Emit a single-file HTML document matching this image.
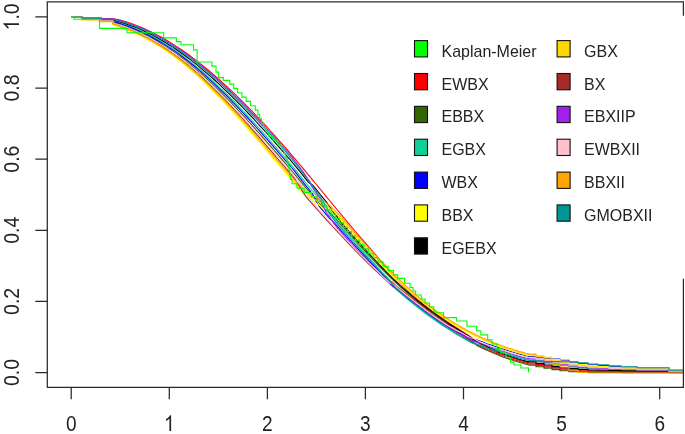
<!DOCTYPE html>
<html><head><meta charset="utf-8"><style>
html,body{margin:0;padding:0;background:#fff;width:685px;height:434px;overflow:hidden}
svg{display:block;filter:blur(0.4px)}
</style></head><body>
<svg width="685" height="434" viewBox="0 0 685 434">
<rect width="685" height="434" fill="#fff"/>
<g fill="none" stroke-width="1.1">
<path d="M71.2,17 H82.0 V18.0 H101.2 V18.7 H113.0 V18.7 L116.5,19.2 L120.0,20.1 L123.5,21.1 L127.0,22.1 L130.5,23.3 L134.0,24.5 L137.5,25.9 L141.0,27.3 L144.5,28.8 L148.0,30.4 L151.5,32.1 L155.0,33.9 L158.5,35.7 L162.0,37.6 L165.5,39.6 L169.0,41.7 L172.5,43.9 L176.0,46.1 L179.5,48.5 L183.0,50.8 L186.5,53.3 L190.0,55.8 L193.5,58.4 L197.0,61.1 L200.5,63.9 L204.0,66.7 L207.5,69.5 L211.0,72.5 L214.5,75.5 L218.0,78.5 L221.5,81.7 L225.0,84.8 L228.5,88.1 L232.0,91.4 L235.5,94.7 L239.0,98.1 L242.5,101.6 L246.0,105.1 L249.5,108.6 L253.0,112.2 L256.5,115.9 L260.0,119.6 L263.5,123.3 L267.0,127.1 L270.5,131.0 L274.0,134.8 L277.5,138.8 L281.0,142.7 L284.5,146.7 L288.0,150.7 L291.5,154.8 L295.0,158.9 L298.5,163.0 L302.0,167.2 L305.5,171.4 L309.0,175.6 L312.5,179.8 L316.0,184.0 L319.5,188.3 L323.0,192.5 L326.5,196.8 L330.0,201.0 L333.5,205.3 L337.0,209.5 L340.5,213.7 L344.0,218.0 L347.5,222.2 L351.0,226.3 L354.5,230.5 L358.0,234.6 L361.5,238.7 L365.0,242.7 L368.5,246.7 L372.0,250.7 L375.5,254.6 L379.0,259.3 L382.5,263.3 L386.0,267.2 L389.5,271.7 L393.0,275.5 L396.5,279.1 L400.0,283.2 L403.5,286.6 L407.0,289.9 L410.5,293.1 L414.0,296.2 L417.5,299.3 L421.0,302.2 L424.5,305.0 L428.0,307.7 L431.5,310.4 L435.0,313.0 L438.5,315.5 L442.0,318.0 L445.5,320.5 L449.0,322.9 L452.5,325.2 L456.0,327.5 L459.5,329.8 L463.0,332.0 L466.5,334.2 L470.0,336.4 L473.5,339.0 L477.0,341.9 L480.5,344.1 L484.0,345.8 L487.5,347.9 L491.0,349.9 L494.5,351.4 L498.0,352.9 L501.5,354.3 L505.0,355.6 L508.5,356.8 L512.0,358.0 L515.5,359.1 L519.0,360.2 L522.5,361.2 L526.0,362.1 L529.5,363.0 H536.0 V364.5 H544.0 V366.1 H552.0 V367.5 H560.0 V368.8 H569.0 V369.4 H578.0 V370.3 H588.0 V370.9 H598.0 V371.1 H609.0 V371.3 H621.0 V371.5 H637.0 V371.8 H669.0 V372.3 H683.4" stroke="#FF0000"/>
<path d="M71.2,17 H82.0 V19.1 H101.2 V20.6 H113.0 V22.4 L116.5,23.4 L120.0,24.5 L123.5,25.7 L127.0,26.9 L130.5,28.3 L134.0,29.7 L137.5,31.2 L141.0,32.8 L144.5,34.5 L148.0,36.3 L151.5,38.1 L155.0,40.1 L158.5,42.1 L162.0,44.2 L165.5,46.4 L169.0,48.7 L172.5,51.1 L176.0,53.6 L179.5,56.1 L183.0,58.8 L186.5,61.5 L190.0,64.3 L193.5,67.2 L197.0,70.2 L200.5,73.2 L204.0,76.3 L207.5,79.5 L211.0,82.8 L214.5,86.1 L218.0,89.5 L221.5,93.0 L225.0,96.5 L228.5,100.1 L232.0,103.7 L235.5,107.4 L239.0,111.1 L242.5,114.8 L246.0,118.6 L249.5,122.5 L253.0,126.4 L256.5,130.3 L260.0,134.2 L263.5,138.2 L267.0,142.2 L270.5,146.2 L274.0,150.2 L277.5,154.2 L281.0,158.3 L284.5,162.4 L288.0,166.4 L291.5,170.5 L295.0,174.7 L298.5,178.9 L302.0,183.2 L305.5,187.5 L309.0,191.2 L312.5,195.0 L316.0,198.7 L319.5,203.5 L323.0,207.2 L326.5,210.9 L330.0,212.6 L333.5,216.4 L337.0,220.2 L340.5,224.1 L344.0,227.9 L347.5,231.8 L351.0,235.7 L354.5,239.6 L358.0,243.5 L361.5,247.3 L365.0,251.1 L368.5,254.9 L372.0,258.6 L375.5,262.3 L379.0,266.0 L382.5,269.6 L386.0,273.2 L389.5,276.7 L393.0,280.1 L396.5,283.4 L400.0,286.6 L403.5,289.7 L407.0,292.8 L410.5,295.7 L414.0,298.7 L417.5,301.5 L421.0,304.3 L424.5,307.1 L428.0,309.8 L431.5,312.4 L435.0,314.9 L438.5,317.5 L442.0,320.0 L445.5,322.4 L449.0,324.8 L452.5,327.2 L456.0,329.6 L459.5,332.3 L463.0,335.1 L466.5,337.8 L470.0,340.0 L473.5,342.2 L477.0,345.6 L480.5,347.3 L484.0,349.0 L487.5,350.6 L491.0,352.1 L494.5,353.6 L498.0,355.0 L501.5,356.4 L505.0,357.7 L508.5,358.9 L512.0,360.1 L515.5,361.3 L519.0,362.3 L522.5,363.3 L526.0,364.3 L529.5,365.2 H536.0 V366.7 H544.0 V368.3 H552.0 V369.6 H560.0 V370.7 H569.0 V371.7 H578.0 V372.0 H588.0 V372.4 H598.0 V372.4 H609.0 V372.5 H621.0 V372.6 H637.0 V372.6 H669.0 V372.8 H683.4" stroke="#336600"/>
<path d="M71.2,17 H82.0 V18.7 H101.2 V20.0 H113.0 V21.1 L116.5,22.0 L120.0,23.0 L123.5,24.1 L127.0,25.3 L130.5,26.6 L134.0,27.9 L137.5,29.4 L141.0,30.9 L144.5,32.6 L148.0,34.3 L151.5,36.1 L155.0,37.9 L158.5,39.9 L162.0,42.0 L165.5,44.1 L169.0,46.3 L172.5,48.6 L176.0,51.0 L179.5,53.5 L183.0,56.1 L186.5,58.7 L190.0,61.4 L193.5,64.2 L197.0,67.1 L200.5,70.0 L204.0,73.0 L207.5,76.1 L211.0,79.3 L214.5,82.5 L218.0,85.8 L221.5,89.1 L225.0,92.5 L228.5,96.0 L232.0,99.5 L235.5,103.0 L239.0,106.7 L242.5,110.3 L246.0,114.0 L249.5,117.8 L253.0,121.5 L256.5,125.4 L260.0,129.2 L263.5,133.1 L267.0,137.0 L270.5,141.0 L274.0,145.0 L277.5,149.0 L281.0,153.0 L284.5,157.0 L288.0,161.1 L291.5,165.2 L295.0,169.4 L298.5,173.7 L302.0,178.1 L305.5,182.6 L309.0,186.8 L312.5,191.0 L316.0,195.1 L319.5,200.4 L323.0,204.5 L326.5,209.7 L330.0,214.8 L333.5,217.9 L337.0,221.9 L340.5,225.9 L344.0,229.8 L347.5,233.8 L351.0,237.6 L354.5,241.5 L358.0,245.4 L361.5,249.3 L365.0,253.2 L368.5,257.1 L372.0,261.0 L375.5,264.9 L379.0,268.8 L382.5,272.6 L386.0,276.2 L389.5,279.9 L393.0,285.3 L396.5,289.8 L400.0,292.9 L403.5,295.9 L407.0,298.8 L410.5,301.7 L414.0,304.5 L417.5,307.3 L421.0,310.0 L424.5,312.7 L428.0,315.3 L431.5,317.8 L435.0,320.3 L438.5,322.7 L442.0,325.1 L445.5,327.4 L449.0,329.6 L452.5,331.8 L456.0,334.0 L459.5,336.1 L463.0,338.1 L466.5,340.0 L470.0,341.9 L473.5,343.8 L477.0,343.9 L480.5,345.3 L484.0,346.6 L487.5,347.4 L491.0,348.1 L494.5,349.4 L498.0,350.5 L501.5,351.7 L505.0,352.8 L508.5,353.9 L512.0,355.0 L515.5,356.0 L519.0,357.0 L522.5,358.0 L526.0,358.9 L529.5,359.7 H536.0 V361.6 H544.0 V363.2 H552.0 V364.6 H560.0 V365.5 H569.0 V366.8 H578.0 V367.9 H588.0 V368.7 H598.0 V369.2 H609.0 V369.6 H621.0 V370.0 H637.0 V370.5 H669.0 V371.6 H683.4" stroke="#12CE98"/>
<path d="M71.2,17 H82.0 V18.9 H101.2 V20.3 H113.0 V21.6 L116.5,22.6 L120.0,23.6 L123.5,24.8 L127.0,26.0 L130.5,27.3 L134.0,28.7 L137.5,30.2 L141.0,31.7 L144.5,33.4 L148.0,35.1 L151.5,36.9 L155.0,38.9 L158.5,40.9 L162.0,42.9 L165.5,45.1 L169.0,47.4 L172.5,49.7 L176.0,52.1 L179.5,54.6 L183.0,57.2 L186.5,59.9 L190.0,62.6 L193.5,65.5 L197.0,68.4 L200.5,71.4 L204.0,74.4 L207.5,77.6 L211.0,80.8 L214.5,84.1 L218.0,87.4 L221.5,90.8 L225.0,94.2 L228.5,97.7 L232.0,101.3 L235.5,104.9 L239.0,108.6 L242.5,112.3 L246.0,116.0 L249.5,119.8 L253.0,123.6 L256.5,127.5 L260.0,131.4 L263.5,135.3 L267.0,139.2 L270.5,143.2 L274.0,147.2 L277.5,151.2 L281.0,155.3 L284.5,159.3 L288.0,163.4 L291.5,167.5 L295.0,171.7 L298.5,176.1 L302.0,180.6 L305.5,185.3 L309.0,189.5 L312.5,193.8 L316.0,201.3 L319.5,206.6 L323.0,210.7 L326.5,214.8 L330.0,218.9 L333.5,221.9 L337.0,225.9 L340.5,229.9 L344.0,233.8 L347.5,237.6 L351.0,241.4 L354.5,245.2 L358.0,248.9 L361.5,252.7 L365.0,256.4 L368.5,260.1 L372.0,263.8 L375.5,267.5 L379.0,271.1 L382.5,274.6 L386.0,278.0 L389.5,282.0 L393.0,285.9 L396.5,287.9 L400.0,290.9 L403.5,294.3 L407.0,297.2 L410.5,300.0 L414.0,302.8 L417.5,305.6 L421.0,308.3 L424.5,310.9 L428.0,313.5 L431.5,316.1 L435.0,318.6 L438.5,321.0 L442.0,323.3 L445.5,325.6 L449.0,327.8 L452.5,330.0 L456.0,331.6 L459.5,333.6 L463.0,334.6 L466.5,336.5 L470.0,338.2 L473.5,339.5 L477.0,340.0 L480.5,341.3 L484.0,342.6 L487.5,343.9 L491.0,345.1 L494.5,346.3 L498.0,347.4 L501.5,348.6 L505.0,349.7 L508.5,350.8 L512.0,351.8 L515.5,352.8 L519.0,353.9 L522.5,354.8 L526.0,355.7 L529.5,356.4 H536.0 V357.6 H544.0 V358.5 H552.0 V359.0 H560.0 V360.3 H569.0 V362.2 H578.0 V363.6 H588.0 V364.8 H598.0 V365.6 H609.0 V366.5 H621.0 V367.3 H637.0 V368.3 H669.0 V370.4 H683.4" stroke="#0000FF"/>
<path d="M71.2,17 H82.0 V19.8 H101.2 V21.8 H113.0 V24.8 L116.5,25.9 L120.0,27.1 L123.5,28.4 L127.0,29.8 L130.5,31.2 L134.0,32.8 L137.5,34.4 L141.0,36.1 L144.5,37.9 L148.0,39.8 L151.5,41.8 L155.0,43.8 L158.5,45.9 L162.0,48.2 L165.5,50.5 L169.0,52.9 L172.5,55.4 L176.0,58.0 L179.5,60.7 L183.0,63.5 L186.5,66.4 L190.0,69.4 L193.5,72.4 L197.0,75.6 L200.5,78.8 L204.0,82.1 L207.5,85.5 L211.0,89.0 L214.5,92.5 L218.0,96.1 L221.5,99.8 L225.0,103.5 L228.5,107.3 L232.0,111.1 L235.5,115.0 L239.0,118.9 L242.5,122.8 L246.0,126.8 L249.5,130.8 L253.0,134.8 L256.5,138.9 L260.0,143.0 L263.5,147.1 L267.0,151.2 L270.5,155.3 L274.0,159.4 L277.5,163.6 L281.0,167.7 L284.5,171.8 L288.0,175.9 L291.5,180.0 L295.0,184.1 L298.5,188.1 L302.0,192.2 L305.5,194.9 L309.0,198.1 L312.5,200.1 L316.0,203.2 L319.5,205.2 L323.0,208.4 L326.5,208.4 L330.0,210.7 L333.5,214.2 L337.0,217.7 L340.5,220.4 L344.0,224.1 L347.5,228.0 L351.0,232.0 L354.5,236.0 L358.0,239.9 L361.5,243.7 L365.0,247.5 L368.5,251.3 L372.0,255.0 L375.5,258.6 L379.0,262.3 L382.5,265.9 L386.0,269.5 L389.5,273.0 L393.0,276.5 L396.5,279.9 L400.0,282.6 L403.5,285.8 L407.0,289.0 L410.5,292.1 L414.0,295.1 L417.5,298.1 L421.0,300.9 L424.5,303.7 L428.0,306.5 L431.5,309.1 L435.0,311.7 L438.5,314.2 L442.0,316.6 L445.5,319.0 L449.0,321.3 L452.5,323.5 L456.0,325.7 L459.5,327.7 L463.0,329.8 L466.5,331.7 L470.0,333.6 L473.5,335.4 L477.0,337.1 L480.5,338.8 L484.0,340.3 L487.5,341.8 L491.0,343.3 L494.5,344.7 L498.0,346.0 L501.5,347.3 L505.0,348.6 L508.5,349.8 L512.0,350.9 L515.5,352.0 L519.0,353.0 L522.5,354.0 L526.0,354.9 L529.5,355.6 H536.0 V356.4 H544.0 V358.0 H552.0 V359.6 H560.0 V361.2 H569.0 V363.2 H578.0 V364.6 H588.0 V365.7 H598.0 V366.5 H609.0 V367.2 H621.0 V367.9 H637.0 V368.8 H669.0 V370.7 H683.4" stroke="#FFFF00"/>
<path d="M71.2,17 H82.0 V18.5 H101.2 V19.5 H113.0 V20.1 L116.5,21.0 L120.0,22.0 L123.5,23.0 L127.0,24.2 L130.5,25.4 L134.0,26.7 L137.5,28.1 L141.0,29.6 L144.5,31.2 L148.0,32.9 L151.5,34.6 L155.0,36.5 L158.5,38.4 L162.0,40.4 L165.5,42.5 L169.0,44.7 L172.5,46.9 L176.0,49.3 L179.5,51.7 L183.0,54.2 L186.5,56.8 L190.0,59.4 L193.5,62.1 L197.0,64.9 L200.5,67.8 L204.0,70.8 L207.5,73.8 L211.0,76.8 L214.5,80.0 L218.0,83.2 L221.5,86.4 L225.0,89.8 L228.5,93.1 L232.0,96.6 L235.5,100.1 L239.0,103.6 L242.5,107.2 L246.0,110.8 L249.5,114.5 L253.0,118.2 L256.5,122.0 L260.0,125.8 L263.5,129.6 L267.0,133.5 L270.5,137.4 L274.0,141.3 L277.5,145.3 L281.0,149.3 L284.5,153.3 L288.0,157.4 L291.5,161.4 L295.0,165.6 L298.5,169.9 L302.0,174.2 L305.5,178.6 L309.0,182.9 L312.5,184.9 L316.0,189.2 L319.5,193.5 L323.0,197.8 L326.5,202.1 L330.0,207.3 L333.5,212.5 L337.0,216.7 L340.5,221.8 L344.0,225.9 L347.5,229.9 L351.0,233.9 L354.5,237.8 L358.0,241.7 L361.5,245.6 L365.0,249.4 L368.5,253.2 L372.0,256.9 L375.5,260.6 L379.0,264.4 L382.5,268.0 L386.0,271.6 L389.5,275.2 L393.0,278.6 L396.5,282.0 L400.0,285.3 L403.5,288.4 L407.0,291.5 L410.5,294.6 L414.0,297.6 L417.5,300.5 L421.0,303.3 L424.5,306.0 L428.0,308.7 L431.5,311.4 L435.0,313.9 L438.5,316.5 L442.0,318.9 L445.5,321.4 L449.0,323.7 L452.5,326.0 L456.0,328.3 L459.5,330.5 L463.0,332.7 L466.5,334.9 L470.0,337.0 L473.5,340.0 L477.0,341.4 L480.5,343.5 L484.0,345.1 L487.5,346.7 L491.0,348.7 L494.5,350.1 L498.0,352.0 L501.5,353.3 L505.0,354.6 L508.5,355.8 L512.0,357.0 L515.5,358.1 L519.0,359.2 L522.5,360.2 L526.0,361.1 L529.5,361.9 H536.0 V363.4 H544.0 V365.0 H552.0 V366.4 H560.0 V367.7 H569.0 V368.4 H578.0 V369.4 H588.0 V370.0 H598.0 V370.3 H609.0 V370.6 H621.0 V370.9 H637.0 V371.3 H669.0 V372.1 H683.4" stroke="#000000"/>
<path d="M71.2,17 H82.0 V19.7 H101.2 V21.6 H113.0 V24.4 L116.5,25.5 L120.0,26.7 L123.5,27.9 L127.0,29.3 L130.5,30.7 L134.0,32.2 L137.5,33.8 L141.0,35.5 L144.5,37.3 L148.0,39.2 L151.5,41.1 L155.0,43.2 L158.5,45.3 L162.0,47.5 L165.5,49.8 L169.0,52.2 L172.5,54.7 L176.0,57.2 L179.5,59.9 L183.0,62.7 L186.5,65.5 L190.0,68.5 L193.5,71.5 L197.0,74.6 L200.5,77.8 L204.0,81.1 L207.5,84.5 L211.0,87.9 L214.5,91.4 L218.0,95.0 L221.5,98.6 L225.0,102.3 L228.5,106.0 L232.0,109.8 L235.5,113.6 L239.0,117.5 L242.5,121.4 L246.0,125.4 L249.5,129.3 L253.0,133.4 L256.5,137.4 L260.0,141.4 L263.5,145.5 L267.0,149.6 L270.5,153.7 L274.0,157.8 L277.5,161.9 L281.0,166.0 L284.5,170.1 L288.0,174.2 L291.5,178.3 L295.0,182.4 L298.5,186.4 L302.0,189.2 L305.5,193.1 L309.0,195.1 L312.5,198.2 L316.0,200.2 L319.5,202.2 L323.0,203.2 L326.5,205.4 L330.0,208.7 L333.5,211.1 L337.0,214.7 L340.5,218.4 L344.0,222.2 L347.5,226.1 L351.0,230.1 L354.5,234.1 L358.0,238.1 L361.5,242.0 L365.0,245.8 L368.5,249.6 L372.0,253.3 L375.5,256.9 L379.0,260.7 L382.5,264.4 L386.0,268.0 L389.5,271.0 L393.0,274.5 L396.5,278.0 L400.0,281.4 L403.5,284.7 L407.0,287.9 L410.5,291.0 L414.0,294.1 L417.5,297.1 L421.0,300.0 L424.5,302.8 L428.0,305.6 L431.5,308.2 L435.0,310.8 L438.5,313.3 L442.0,315.8 L445.5,318.1 L449.0,320.4 L452.5,322.6 L456.0,324.8 L459.5,326.8 L463.0,328.8 L466.5,330.8 L470.0,332.6 L473.5,334.4 L477.0,336.2 L480.5,337.8 L484.0,339.4 L487.5,340.9 L491.0,342.4 L494.5,343.8 L498.0,345.1 L501.5,346.4 L505.0,347.7 L508.5,348.9 L512.0,350.0 L515.5,351.1 L519.0,352.1 L522.5,353.1 L526.0,354.0 L529.5,354.8 H536.0 V355.7 H544.0 V357.4 H552.0 V360.2 H560.0 V362.4 H569.0 V364.1 H578.0 V365.6 H588.0 V366.6 H598.0 V367.3 H609.0 V367.9 H621.0 V368.5 H637.0 V369.3 H669.0 V371.0 H683.4" stroke="#FFD700"/>
<path d="M71.2,17 H82.0 V19.4 H101.2 V21.2 H113.0 V23.5 L116.5,24.6 L120.0,25.7 L123.5,26.9 L127.0,28.2 L130.5,29.6 L134.0,31.1 L137.5,32.7 L141.0,34.3 L144.5,36.1 L148.0,37.9 L151.5,39.8 L155.0,41.8 L158.5,43.9 L162.0,46.0 L165.5,48.3 L169.0,50.6 L172.5,53.1 L176.0,55.6 L179.5,58.2 L183.0,60.9 L186.5,63.7 L190.0,66.6 L193.5,69.6 L197.0,72.7 L200.5,75.8 L204.0,79.0 L207.5,82.3 L211.0,85.6 L214.5,89.1 L218.0,92.6 L221.5,96.1 L225.0,99.7 L228.5,103.4 L232.0,107.1 L235.5,110.9 L239.0,114.7 L242.5,118.5 L246.0,122.4 L249.5,126.3 L253.0,130.3 L256.5,134.2 L260.0,138.2 L263.5,142.3 L267.0,146.3 L270.5,150.4 L274.0,154.4 L277.5,158.5 L281.0,162.6 L284.5,166.7 L288.0,170.8 L291.5,174.9 L295.0,179.1 L298.5,184.7 L302.0,190.4 L305.5,196.2 L309.0,200.2 L312.5,204.1 L316.0,208.1 L319.5,212.0 L323.0,215.9 L326.5,219.8 L330.0,223.6 L333.5,227.5 L337.0,231.2 L340.5,235.0 L344.0,238.7 L347.5,242.4 L351.0,246.1 L354.5,249.7 L358.0,253.3 L361.5,256.8 L365.0,260.3 L368.5,263.8 L372.0,267.2 L375.5,270.6 L379.0,273.1 L382.5,275.6 L386.0,278.7 L389.5,280.6 L393.0,283.0 L396.5,286.1 L400.0,288.9 L403.5,291.7 L407.0,294.5 L410.5,297.3 L414.0,300.0 L417.5,302.8 L421.0,305.5 L424.5,308.1 L428.0,310.8 L431.5,313.4 L435.0,315.9 L438.5,318.4 L442.0,320.9 L445.5,323.3 L449.0,325.7 L452.5,328.5 L456.0,330.8 L459.5,333.1 L463.0,336.2 L466.5,338.4 L470.0,340.6 L473.5,342.7 L477.0,345.1 L480.5,346.7 L484.0,348.3 L487.5,349.8 L491.0,351.3 L494.5,352.7 L498.0,354.1 L501.5,355.5 L505.0,356.7 L508.5,357.9 L512.0,359.1 L515.5,360.2 L519.0,361.3 L522.5,362.3 L526.0,363.2 L529.5,364.1 H536.0 V365.6 H544.0 V367.2 H552.0 V368.7 H560.0 V369.9 H569.0 V370.9 H578.0 V371.3 H588.0 V371.7 H598.0 V371.9 H609.0 V372.0 H621.0 V372.1 H637.0 V372.3 H669.0 V372.6 H683.4" stroke="#A52A2A"/>
<path d="M71.2,17 H82.0 V18.1 H101.2 V18.9 H113.0 V18.9 L116.5,19.7 L120.0,20.6 L123.5,21.6 L127.0,22.7 L130.5,23.9 L134.0,25.2 L137.5,26.5 L141.0,28.0 L144.5,29.5 L148.0,31.1 L151.5,32.8 L155.0,34.6 L158.5,36.5 L162.0,38.4 L165.5,40.5 L169.0,42.6 L172.5,44.8 L176.0,47.0 L179.5,49.4 L183.0,51.8 L186.5,54.3 L190.0,56.9 L193.5,59.5 L197.0,62.2 L200.5,65.0 L204.0,67.8 L207.5,70.8 L211.0,73.7 L214.5,76.8 L218.0,79.9 L221.5,83.0 L225.0,86.3 L228.5,89.5 L232.0,92.9 L235.5,96.3 L239.0,99.7 L242.5,103.2 L246.0,106.7 L249.5,110.3 L253.0,114.0 L256.5,117.6 L260.0,121.4 L263.5,125.1 L267.0,129.0 L270.5,132.8 L274.0,136.7 L277.5,140.6 L281.0,144.6 L284.5,148.6 L288.0,152.6 L291.5,156.7 L295.0,161.0 L298.5,165.6 L302.0,170.4 L305.5,175.4 L309.0,181.5 L312.5,187.6 L316.0,192.6 L319.5,197.7 L323.0,205.8 L326.5,212.8 L330.0,217.4 L333.5,223.0 L337.0,227.4 L340.5,231.7 L344.0,235.8 L347.5,239.7 L351.0,243.5 L354.5,247.2 L358.0,250.9 L361.5,254.5 L365.0,258.2 L368.5,261.8 L372.0,265.4 L375.5,269.7 L379.0,273.9 L382.5,277.2 L386.0,280.4 L389.5,283.6 L393.0,286.7 L396.5,289.2 L400.0,291.5 L403.5,293.7 L407.0,296.5 L410.5,299.3 L414.0,302.1 L417.5,304.8 L421.0,307.5 L424.5,310.2 L428.0,312.8 L431.5,315.3 L435.0,317.9 L438.5,320.3 L442.0,322.7 L445.5,325.0 L449.0,327.3 L452.5,329.5 L456.0,332.1 L459.5,334.2 L463.0,335.7 L466.5,337.2 L470.0,339.1 L473.5,341.0 L477.0,342.5 L480.5,343.0 L484.0,344.4 L487.5,345.7 L491.0,347.0 L494.5,348.3 L498.0,349.5 L501.5,350.7 L505.0,351.8 L508.5,352.9 L512.0,354.0 L515.5,355.1 L519.0,356.1 L522.5,357.1 L526.0,358.0 L529.5,358.7 H536.0 V360.1 H544.0 V362.2 H552.0 V363.2 H560.0 V364.5 H569.0 V365.9 H578.0 V367.1 H588.0 V367.9 H598.0 V368.5 H609.0 V369.0 H621.0 V369.5 H637.0 V370.1 H669.0 V371.4 H683.4" stroke="#A020F0"/>
<path d="M71.2,17 H82.0 V19.3 H101.2 V20.9 H113.0 V22.9 L116.5,23.9 L120.0,25.1 L123.5,26.3 L127.0,27.5 L130.5,28.9 L134.0,30.4 L137.5,31.9 L141.0,33.5 L144.5,35.2 L148.0,37.0 L151.5,38.9 L155.0,40.9 L158.5,42.9 L162.0,45.1 L165.5,47.3 L169.0,49.6 L172.5,52.0 L176.0,54.5 L179.5,57.1 L183.0,59.8 L186.5,62.5 L190.0,65.4 L193.5,68.3 L197.0,71.3 L200.5,74.4 L204.0,77.6 L207.5,80.8 L211.0,84.1 L214.5,87.5 L218.0,91.0 L221.5,94.5 L225.0,98.0 L228.5,101.6 L232.0,105.3 L235.5,109.0 L239.0,112.8 L242.5,116.6 L246.0,120.4 L249.5,124.3 L253.0,128.2 L256.5,132.1 L260.0,136.1 L263.5,140.1 L267.0,144.1 L270.5,148.2 L274.0,152.2 L277.5,156.3 L281.0,160.3 L284.5,164.4 L288.0,168.5 L291.5,172.6 L295.0,176.8 L298.5,181.3 L302.0,185.8 L305.5,191.6 L309.0,196.8 L312.5,202.0 L316.0,206.0 L319.5,210.0 L323.0,214.0 L326.5,218.0 L330.0,221.9 L333.5,225.8 L337.0,229.6 L340.5,233.5 L344.0,237.2 L347.5,241.0 L351.0,244.7 L354.5,248.3 L358.0,252.0 L361.5,255.6 L365.0,259.2 L368.5,262.7 L372.0,266.2 L375.5,269.0 L379.0,272.4 L382.5,276.3 L386.0,279.5 L389.5,282.7 L393.0,283.9 L396.5,287.0 L400.0,289.9 L403.5,292.7 L407.0,295.5 L410.5,298.3 L414.0,301.1 L417.5,303.8 L421.0,306.5 L424.5,309.1 L428.0,311.8 L431.5,314.4 L435.0,316.9 L438.5,319.3 L442.0,321.7 L445.5,324.0 L449.0,326.3 L452.5,328.0 L456.0,330.2 L459.5,331.8 L463.0,333.8 L466.5,335.7 L470.0,337.6 L473.5,338.5 L477.0,340.5 L480.5,342.0 L484.0,343.3 L487.5,344.7 L491.0,346.0 L494.5,347.3 L498.0,348.5 L501.5,349.7 L505.0,350.8 L508.5,352.0 L512.0,353.1 L515.5,354.1 L519.0,355.1 L522.5,356.1 L526.0,357.0 L529.5,357.8 H536.0 V359.1 H544.0 V360.7 H552.0 V362.2 H560.0 V363.6 H569.0 V365.0 H578.0 V366.2 H588.0 V367.2 H598.0 V367.8 H609.0 V368.4 H621.0 V369.0 H637.0 V369.7 H669.0 V371.2 H683.4" stroke="#FFC0CB"/>
<path d="M71.2,17 H82.0 V19.6 H101.2 V21.4 H113.0 V23.9 L116.5,25.0 L120.0,26.2 L123.5,27.4 L127.0,28.8 L130.5,30.2 L134.0,31.7 L137.5,33.3 L141.0,35.0 L144.5,36.7 L148.0,38.6 L151.5,40.5 L155.0,42.5 L158.5,44.6 L162.0,46.8 L165.5,49.1 L169.0,51.4 L172.5,53.9 L176.0,56.5 L179.5,59.1 L183.0,61.8 L186.5,64.7 L190.0,67.6 L193.5,70.6 L197.0,73.7 L200.5,76.9 L204.0,80.1 L207.5,83.4 L211.0,86.8 L214.5,90.3 L218.0,93.8 L221.5,97.4 L225.0,101.0 L228.5,104.7 L232.0,108.5 L235.5,112.3 L239.0,116.1 L242.5,120.0 L246.0,123.9 L249.5,127.9 L253.0,131.9 L256.5,135.9 L260.0,139.9 L263.5,144.0 L267.0,148.0 L270.5,152.1 L274.0,156.2 L277.5,160.3 L281.0,164.4 L284.5,168.5 L288.0,172.6 L291.5,176.7 L295.0,180.7 L298.5,183.5 L302.0,187.5 L305.5,190.1 L309.0,193.3 L312.5,196.3 L316.0,197.2 L319.5,199.1 L323.0,200.1 L326.5,203.4 L330.0,205.7 L333.5,209.1 L337.0,212.7 L340.5,216.4 L344.0,220.2 L347.5,224.1 L351.0,228.2 L354.5,232.3 L358.0,236.3 L361.5,240.2 L365.0,244.1 L368.5,247.9 L372.0,251.7 L375.5,255.3 L379.0,258.4 L382.5,262.2 L386.0,265.9 L389.5,269.6 L393.0,273.2 L396.5,276.7 L400.0,280.2 L403.5,283.5 L407.0,286.8 L410.5,290.0 L414.0,293.1 L417.5,296.2 L421.0,299.1 L424.5,302.0 L428.0,304.7 L431.5,307.4 L435.0,310.0 L438.5,312.5 L442.0,314.9 L445.5,317.3 L449.0,319.6 L452.5,321.8 L456.0,323.9 L459.5,326.0 L463.0,328.0 L466.5,329.9 L470.0,331.7 L473.5,333.5 L477.0,335.2 L480.5,336.9 L484.0,338.5 L487.5,340.0 L491.0,341.5 L494.5,342.9 L498.0,344.2 L501.5,345.5 L505.0,346.8 L508.5,348.0 L512.0,349.1 L515.5,350.2 L519.0,351.2 L522.5,352.2 L526.0,353.2 L529.5,354.1 H536.0 V357.0 H544.0 V360.0 H552.0 V364.1 H560.0 V367.0 H569.0 V370.2 H578.0 V372.5 H588.0 V373.0 H598.0 V373.0 H609.0 V373.0 H621.0 V373.0 H637.0 V373.0 H669.0 V373.0 H683.4" stroke="#FFA500"/>
<path d="M71.2,17 H82.0 V18.3 H101.2 V19.2 H113.0 V19.4 L116.5,20.3 L120.0,21.2 L123.5,22.2 L127.0,23.3 L130.5,24.5 L134.0,25.8 L137.5,27.2 L141.0,28.6 L144.5,30.2 L148.0,31.8 L151.5,33.6 L155.0,35.4 L158.5,37.3 L162.0,39.2 L165.5,41.3 L169.0,43.4 L172.5,45.6 L176.0,47.9 L179.5,50.3 L183.0,52.8 L186.5,55.3 L190.0,57.9 L193.5,60.6 L197.0,63.3 L200.5,66.1 L204.0,69.0 L207.5,72.0 L211.0,75.0 L214.5,78.1 L218.0,81.2 L221.5,84.4 L225.0,87.7 L228.5,91.0 L232.0,94.4 L235.5,97.8 L239.0,101.3 L242.5,104.8 L246.0,108.4 L249.5,112.0 L253.0,115.7 L256.5,119.4 L260.0,123.2 L263.5,127.0 L267.0,130.8 L270.5,134.7 L274.0,138.6 L277.5,142.5 L281.0,146.5 L284.5,150.5 L288.0,154.6 L291.5,158.6 L295.0,162.9 L298.5,167.3 L302.0,171.9 L305.5,176.7 L309.0,180.3 L312.5,186.1 L316.0,190.9 L319.5,195.6 L323.0,201.4 L326.5,207.1 L330.0,213.7 L333.5,219.1 L337.0,223.4 L340.5,227.6 L344.0,231.7 L347.5,235.7 L351.0,239.5 L354.5,243.3 L358.0,247.2 L361.5,251.0 L365.0,254.8 L368.5,258.6 L372.0,262.4 L375.5,266.2 L379.0,269.9 L382.5,273.6 L386.0,277.1 L389.5,281.2 L393.0,284.6 L396.5,288.6 L400.0,292.1 L403.5,295.1 L407.0,298.0 L410.5,300.8 L414.0,303.6 L417.5,306.4 L421.0,309.1 L424.5,311.8 L428.0,314.4 L431.5,316.9 L435.0,319.4 L438.5,321.9 L442.0,324.2 L445.5,326.6 L449.0,328.9 L452.5,331.1 L456.0,333.3 L459.5,335.4 L463.0,337.4 L466.5,339.4 L470.0,341.4 L473.5,343.3 L477.0,344.4 L480.5,345.8 L484.0,347.2 L487.5,348.5 L491.0,349.4 L494.5,350.6 L498.0,351.3 L501.5,352.5 L505.0,353.7 L508.5,354.8 L512.0,355.9 L515.5,357.0 L519.0,358.0 L522.5,359.0 L526.0,359.8 L529.5,360.5 H536.0 V361.1 H544.0 V361.6 H552.0 V361.6 H560.0 V361.7 H569.0 V361.7 H578.0 V362.9 H588.0 V364.0 H598.0 V364.9 H609.0 V365.9 H621.0 V366.8 H637.0 V367.8 H669.0 V370.2 H683.4" stroke="#009696"/>
<path d="M71.2,17 H74.0 V19.3 H99.5 V28.4 H127.0 V32.8 H163.7 V37.9 H176.4 V41.6 H181.0 V44.8 H193.5 V49.9 H197.1 V62.0 H211.8 V66.1 H216.0 V72.1 H218.7 V77.6 H223.3 V80.4 H229.8 V84.1 H233.7 V88.4 H237.7 V92.8 H241.9 V97.1 H246.1 V101.4 H250.5 V105.8 H255.3 V110.1 H257.9 V114.5 H259.6 V118.8 H261.6 V123.1 H263.7 V127.5 H266.0 V131.8 H268.8 V136.1 H273.0 V140.5 H277.7 V144.8 H281.5 V149.1 H283.8 V153.5 H285.7 V157.8 H287.2 V162.2 H288.3 V166.5 H289.0 V170.8 H289.6 V175.2 H290.3 V179.5 H292.0 V183.8 H297.0 V188.2 H304.1 V192.5 H311.5 V196.8 H317.4 V201.2 H322.3 V205.5 H326.8 V209.9 H331.2 V214.2 H335.5 V218.5 H339.6 V222.9 H343.6 V227.2 H347.5 V231.5 H351.5 V235.9 H355.5 V240.2 H359.6 V244.5 H363.9 V248.9 H368.4 V253.2 H373.1 V257.6 H378.0 V261.9 H383.0 V266.2 H388.2 V270.6 H393.5 V274.9 H397.7 V278.4 H404.6 V283.2 H410.0 V287.5 H413.0 V291.0 H415.6 V295.0 H421.2 V299.0 H425.0 V303.0 H429.5 V306.8 H433.8 V310.7 H435.0 V312.8 H443.5 V317.6 H456.6 V321.0 H467.0 V326.2 H476.6 V330.7 H480.8 V334.9 H487.7 V339.7 H492.0 V344.0 H497.0 V348.5 H501.0 V353.0 H506.0 V357.5 H510.4 V362.1 H513.9 V365.0 H520.9 V368.0 H528.5 V372.6" stroke="#00FF00"/>
</g>
<path d="M683.4,15.8 V1.85 H47.3 V387.4 H683.4 V278.8" fill="none" stroke="#2a2a2a" stroke-width="1.25" stroke-linejoin="miter" stroke-linecap="butt"/>
<path d="M71.2,387.4 V399.3 M169.3,387.4 V399.3 M267.4,387.4 V399.3 M365.4,387.4 V399.3 M463.5,387.4 V399.3 M561.6,387.4 V399.3 M659.7,387.4 V399.3 M47.3,372.5 H35.3 M47.3,301.4 H35.3 M47.3,230.3 H35.3 M47.3,159.1 H35.3 M47.3,88.0 H35.3 M47.3,16.9 H35.3" stroke="#2a2a2a" stroke-width="1.25" fill="none"/>
<g font-family='"Liberation Sans", sans-serif' font-size="20.5" fill="#222">
<text transform="translate(71.2,430.9) scale(0.93,1.07)" text-anchor="middle">0</text>
<g transform="translate(169.3,430.9) scale(0.93,1.07) translate(-5.70,0)"><path transform="scale(0.01001,-0.01001)" d="M763 0H583V1147Q518 1085 412.5 1023.0Q307 961 223 930V1104Q374 1175 487.0 1276.0Q600 1377 647 1472H763Z"/></g>
<text transform="translate(267.4,430.9) scale(0.93,1.07)" text-anchor="middle">2</text>
<text transform="translate(365.4,430.9) scale(0.93,1.07)" text-anchor="middle">3</text>
<text transform="translate(463.5,430.9) scale(0.93,1.07)" text-anchor="middle">4</text>
<text transform="translate(561.6,430.9) scale(0.93,1.07)" text-anchor="middle">5</text>
<text transform="translate(659.7,430.9) scale(0.93,1.07)" text-anchor="middle">6</text>
<text transform="translate(19,372.5) rotate(-90) scale(0.95,1.07)" text-anchor="middle">0.0</text>
<text transform="translate(19,301.4) rotate(-90) scale(0.95,1.07)" text-anchor="middle">0.2</text>
<text transform="translate(19,230.3) rotate(-90) scale(0.95,1.07)" text-anchor="middle">0.4</text>
<text transform="translate(19,159.1) rotate(-90) scale(0.95,1.07)" text-anchor="middle">0.6</text>
<text transform="translate(19,88.0) rotate(-90) scale(0.95,1.07)" text-anchor="middle">0.8</text>
<g transform="translate(19,16.9) rotate(-90) scale(0.95,1.07) translate(-14.25,0)"><path transform="scale(0.01001,-0.01001)" d="M763 0H583V1147Q518 1085 412.5 1023.0Q307 961 223 930V1104Q374 1175 487.0 1276.0Q600 1377 647 1472H763Z"/><text x="11.40" y="0">.0</text></g>
</g>
<g font-family='"Liberation Sans", sans-serif' font-size="16" fill="#222">
<rect x="414.5" y="40.6" width="13" height="16.3" fill="#00FF00" stroke="#111" stroke-width="1.1"/>
<text transform="translate(441.5,56.7) scale(1,1.06)">Kaplan-Meier</text>
<rect x="414.5" y="73.5" width="13" height="16.3" fill="#FF0000" stroke="#111" stroke-width="1.1"/>
<text transform="translate(441.5,89.6) scale(1,1.06)">EWBX</text>
<rect x="414.5" y="106.3" width="13" height="16.3" fill="#336600" stroke="#111" stroke-width="1.1"/>
<text transform="translate(441.5,122.4) scale(1,1.06)">EBBX</text>
<rect x="414.5" y="139.2" width="13" height="16.3" fill="#12CE98" stroke="#111" stroke-width="1.1"/>
<text transform="translate(441.5,155.3) scale(1,1.06)">EGBX</text>
<rect x="414.5" y="172.1" width="13" height="16.3" fill="#0000FF" stroke="#111" stroke-width="1.1"/>
<text transform="translate(441.5,188.2) scale(1,1.06)">WBX</text>
<rect x="414.5" y="204.9" width="13" height="16.3" fill="#FFFF00" stroke="#111" stroke-width="1.1"/>
<text transform="translate(441.5,221.0) scale(1,1.06)">BBX</text>
<rect x="414.5" y="237.8" width="13" height="16.3" fill="#000000" stroke="#111" stroke-width="1.1"/>
<text transform="translate(441.5,253.9) scale(1,1.06)">EGEBX</text>
<rect x="557.1" y="40.6" width="13" height="16.3" fill="#FFD700" stroke="#111" stroke-width="1.1"/>
<text transform="translate(584.1,56.7) scale(1,1.06)">GBX</text>
<rect x="557.1" y="73.5" width="13" height="16.3" fill="#A52A2A" stroke="#111" stroke-width="1.1"/>
<text transform="translate(584.1,89.6) scale(1,1.06)">BX</text>
<rect x="557.1" y="106.3" width="13" height="16.3" fill="#A020F0" stroke="#111" stroke-width="1.1"/>
<text transform="translate(584.1,122.4) scale(1,1.06)">EBXIIP</text>
<rect x="557.1" y="139.2" width="13" height="16.3" fill="#FFC0CB" stroke="#111" stroke-width="1.1"/>
<text transform="translate(584.1,155.3) scale(1,1.06)">EWBXII</text>
<rect x="557.1" y="172.1" width="13" height="16.3" fill="#FFA500" stroke="#111" stroke-width="1.1"/>
<text transform="translate(584.1,188.2) scale(1,1.06)">BBXII</text>
<rect x="557.1" y="204.9" width="13" height="16.3" fill="#009696" stroke="#111" stroke-width="1.1"/>
<text transform="translate(584.1,221.0) scale(1,1.06)">GMOBXII</text>
</g>
</svg>
</body></html>
